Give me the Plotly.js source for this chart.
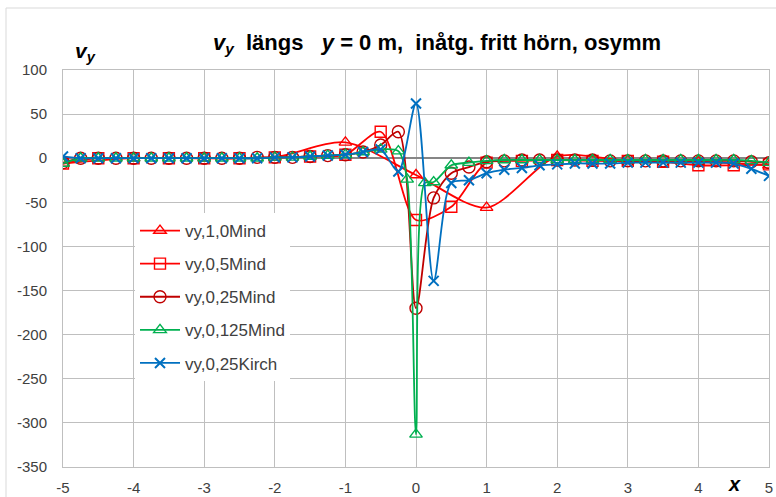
<!DOCTYPE html>
<html>
<head>
<meta charset="utf-8">
<script src="https://cdn.plot.ly/plotly-3.0.1.min.js"></script>
<style>html,body{margin:0;padding:0;background:#fff;}#chart{width:776px;height:497px;}</style>
</head>
<body>
<div id="chart"></div>
<script>
// ---- data ----
const x10 = [-5,-4,-3,-2,-1,0,1,2,3,4,5];
const vy_10Mind = [-6,0,0,1,18,-19,-56,2,-3,-4,-8];

const x05 = [-5,-4.5,-4,-3.5,-3,-2.5,-2,-1.5,-1,-0.5,0,0.5,1,1.5,2,2.5,3,3.5,4,4.5,5];
const vy_05Mind = [-6,0,0,0,0,0,1,2,4,30,-70,-55,-5,-3,-2,-3,-3,-4,-8,-8,-7];

const x025 = [-5,-4.75,-4.5,-4.25,-4,-3.75,-3.5,-3.25,-3,-2.75,-2.5,-2.25,-2,-1.75,-1.5,-1.25,-1,-0.75,-0.5,-0.25,0,
              0.25,0.5,0.75,1,1.25,1.5,1.75,2,2.25,2.5,2.75,3,3.25,3.5,3.75,4,4.25,4.5,4.75,5];
const vy_025Mind = [-5,0,0,0,0,0,0,0,0,0,0,1,1,1,2,3,4,7,15,30,-170,
                    -45,-17,-10,-4,-3,-2,-2,-2,-2,-2,-3,-3,-3,-3,-3,-3,-3,-3,-4,-5];

const x0125 = [-5,-4.75,-4.5,-4.25,-4,-3.75,-3.5,-3.25,-3,-2.75,-2.5,-2.25,-2,-1.75,-1.5,-1.25,-1,-0.75,-0.5,-0.25,
               -0.125,0,0.125,0.25,0.5,0.75,1,1.25,1.5,1.75,2,2.25,2.5,2.75,3,3.25,3.5,3.75,4,4.25,4.5,4.75,5];
const vy_0125Mind = [-6,0,0,0,0,0,0,0,0,0,0,0,1,1,2,3,4,7,10,8,
                     -24,-313,-28,-27,-8,-5,-3,-2,-2,-2,-2,-2,-2,-2,-2,-2,-2,-2,-2,-2,-2,-3,-5];

const vy_025Kirch = [2,0,0,0,0,0,0,0,0,0,0,0,1,1,2,3,4,7,10,-15,62,
                     -139,-28,-25,-17,-13,-11,-8,-7,-6,-6,-6,-5,-5,-5,-5,-5,-5,-6,-12,-20];

const seriesNames = ["vy,1,0Mind","vy,0,5Mind","vy,0,25Mind","vy,0,125Mind","vy,0,25Kirch"];
const xTicks = [-5,-4,-3,-2,-1,0,1,2,3,4,5];
const yTicks = [-350,-300,-250,-200,-150,-100,-50,0,50,100];

// ---- styles ----
const FONT = '"Liberation Sans", Arial, sans-serif';
function tr(x, y, name, color, symbol, size, group){
  return {
    x: x, y: y, name: name, type: 'scatter', mode: 'lines+markers',
    legendgroup: group,
    line: {color: color, width: 1.8, shape: 'spline', smoothing: 0.8},
    marker: {symbol: symbol, size: size, color: color, line: {color: color, width: 1.4}},
    cliponaxis: true
  };
}
const data = [
  tr(x10, vy_10Mind, seriesNames[0], '#FF0000', 'triangle-up-open', 11, 'a'),
  tr(x05, vy_05Mind, seriesNames[1], '#FF0000', 'square-open', 11, 'b'),
  tr(x025, vy_025Mind, seriesNames[2], '#C00000', 'circle-open', 12, 'c'),
  tr(x0125, vy_0125Mind, seriesNames[3], '#00B050', 'triangle-up-open', 11, 'd'),
  tr(x025, vy_025Kirch, seriesNames[4], '#0070C0', 'x-thin-open', 10, 'e')
];
data[4].marker.line.width = 2;

const W = 776, H = 497, L = 63, R = 7, T = 70, B = 30;
const pw = W - L - R, ph = H - T - B;
const layout = {
  width: W, height: H,
  margin: {l: L, r: R, t: T, b: B, pad: 0},
  paper_bgcolor: '#ffffff', plot_bgcolor: '#ffffff',
  font: {family: FONT, size: 15, color: '#404040'},
  title: {
    text: '<b><i>v</i><sub><i>y</i></sub>\u00a0 längs \u00a0 <i>y</i> = 0 m,\u00a0 inåtg. fritt hörn, osymm</b>',
    x: 437/W, xref: 'container', xanchor: 'center',
    y: 1 - 42/H, yref: 'container', yanchor: 'middle',
    font: {family: FONT, size: 22, color: '#000000'}
  },
  xaxis: {
    range: [-5, 5], tickvals: xTicks, ticktext: xTicks.map(String),
    showgrid: true, gridcolor: '#BFBFBF', gridwidth: 1,
    zeroline: false, showline: true, mirror: true, linecolor: '#BFBFBF', linewidth: 1,
    ticks: 'outside', ticklen: 7, tickcolor: 'rgba(0,0,0,0)',
    tickfont: {family: FONT, size: 15, color: '#404040'}
  },
  yaxis: {
    range: [-350, 100], tickvals: yTicks, ticktext: yTicks.map(String),
    showgrid: true, gridcolor: '#BFBFBF', gridwidth: 1,
    zeroline: true, zerolinecolor: '#868686', zerolinewidth: 2,
    showline: true, mirror: true, linecolor: '#BFBFBF', linewidth: 1,
    ticks: 'outside', ticklen: 12, tickcolor: 'rgba(0,0,0,0)',
    tickfont: {family: FONT, size: 15, color: '#404040'}
  },
  legend: {
    x: (135 - L)/pw, y: (H - B - 213)/ph, xanchor: 'left', yanchor: 'top',
    bgcolor: '#ffffff', borderwidth: 0,
    font: {family: FONT, size: 17, color: '#404040'},
    tracegroupgap: 8, itemwidth: 40
  },
  showlegend: true,
  annotations: [
    {text: '<b><i>v</i><sub><i>y</i></sub></b>', xref: 'paper', yref: 'paper',
     x: (85 - L)/pw, y: (H - B - 52)/ph, xanchor: 'center', yanchor: 'middle',
     showarrow: false, font: {family: FONT, size: 21, color: '#000000'}},
    {text: '<b><i>x</i></b>', xref: 'paper', yref: 'paper',
     x: (734 - L)/pw, y: (H - B - 484)/ph, xanchor: 'center', yanchor: 'middle',
     showarrow: false, font: {family: FONT, size: 20, color: '#000000'}}
  ],
  shapes: [
    {type: 'rect', xref: 'paper', yref: 'paper', layer: 'below',
     x0: (6 - L)/pw, x1: (W + 20 - L)/pw, y0: (H - B - (H + 20))/ph, y1: (H - B - 8)/ph,
     line: {color: '#D9D9D9', width: 1}, fillcolor: 'rgba(0,0,0,0)'}
  ]
};
Plotly.newPlot('chart', data, layout, {displayModeBar: false, staticPlot: true});
</script>
</body>
</html>
